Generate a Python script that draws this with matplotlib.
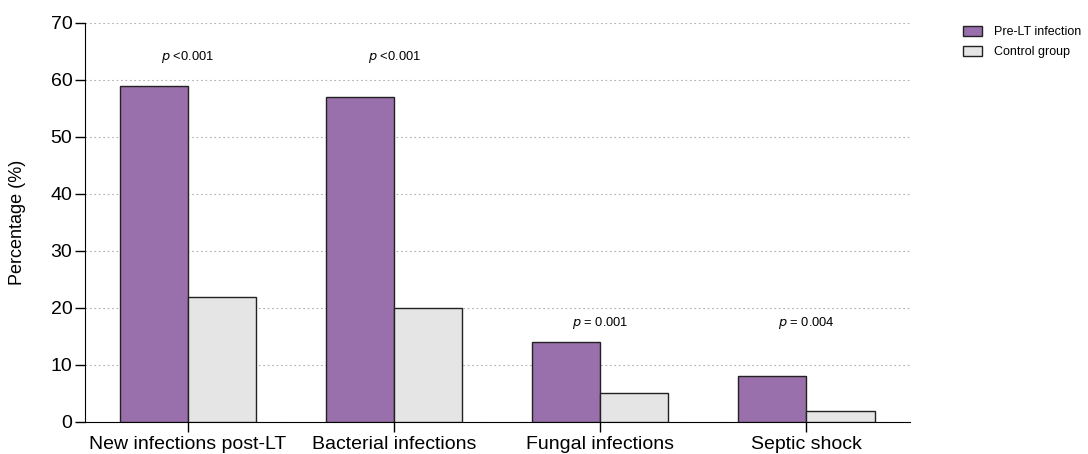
import numpy as np
import matplotlib.pyplot as plt

plt.rcParams['font.family'] = ['Liberation Sans', 'DejaVu Sans']

# Datos por categoria
categorias = ['New infections post-LT', 'Bacterial infections', 'Fungal infections', 'Septic shock']
pre_lt = [59, 57, 14, 8]
control = [22, 20, 5, 2]
p_textos = ['<0.001', '<0.001', '= 0.001', '= 0.004']
p_alturas = [64, 64, 17.4, 17.4]

x = np.arange(len(categorias))
ancho = 0.33

fig = plt.figure(figsize=(10.88, 4.54), dpi=100)
ax = fig.add_axes([0.078, 0.0705, 0.758, 0.879])

ax.bar(x - ancho / 2, pre_lt, ancho, color='#9970ab', edgecolor='#222222',
       linewidth=1.0, label='Pre-LT infection', zorder=3)
ax.bar(x + ancho / 2, control, ancho, color='#e5e5e5', edgecolor='#222222',
       linewidth=1.0, label='Control group', zorder=3)

for xi, txt, yi in zip(x, p_textos, p_alturas):
    ax.text(xi, yi, r'$p$ ' + txt, ha='center', va='center', fontsize=9.3)

# Ejes
ax.set_xlim(-0.5, 3.5)
ax.set_ylim(0, 70)
ax.set_yticks(range(0, 71, 10))
ax.set_xticks(x)
ax.set_xticklabels(categorias, fontsize=14)
ax.tick_params(axis='y', labelsize=14, length=7, width=1, pad=2)
ax.tick_params(axis='x', length=7, width=1, pad=3)
ax.set_ylabel('Percentage (%)', fontsize=13)
ax.yaxis.set_label_coords(-0.0715, 0.5)

ax.yaxis.grid(True, linestyle=(0, (1.5, 2.5)), color='#b0b0b0', linewidth=0.8, zorder=0)
ax.spines['top'].set_visible(False)
ax.spines['right'].set_visible(False)

leg = fig.legend(loc='upper left', bbox_to_anchor=(0.885, 0.942), frameon=False,
                 fontsize=9, handlelength=1.5, handleheight=0.8, handletextpad=1.0,
                 labelspacing=0.6, borderpad=0, borderaxespad=0)
for h in leg.legend_handles:
    h.set_linewidth(1.0)

fig.savefig('out.png', dpi=100)
